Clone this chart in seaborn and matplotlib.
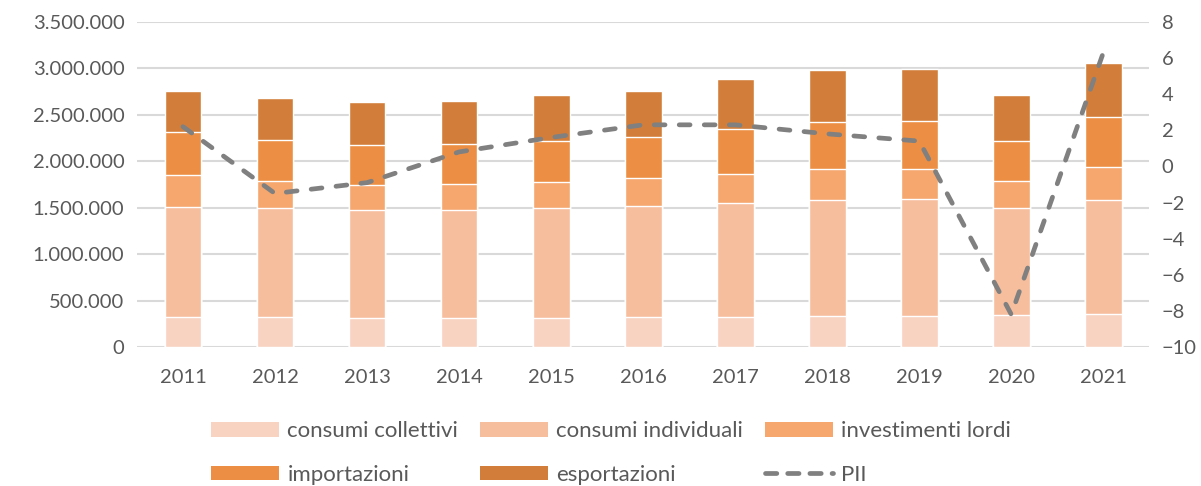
import numpy as np
import pandas as pd
import matplotlib
matplotlib.use("Agg")
import matplotlib.pyplot as plt
import seaborn as sns
from matplotlib.patches import Patch
from matplotlib.lines import Line2D
from matplotlib.ticker import FuncFormatter, MultipleLocator

# ================= dati =================
anni = ["2011", "2012", "2013", "2014", "2015", "2016", "2017", "2018", "2019", "2020", "2021"]
consumi_collettivi = [326, 323, 316, 316, 316, 326, 326, 337, 337, 345, 352]
consumi_individuali = [1185, 1171, 1159, 1159, 1181, 1192, 1225, 1246, 1257, 1152, 1231]
investimenti_lordi = [341, 294, 270, 280, 280, 305, 312, 334, 326, 294, 359]
importazioni = [461, 438, 427, 428, 441, 438, 485, 506, 514, 427, 535]
esportazioni = [445, 458, 462, 470, 498, 494, 532, 554, 560, 490, 580]
pil = [2.2, -1.5, -0.9, 0.8, 1.6, 2.3, 2.3, 1.8, 1.4, -8.2, 6.3]

serie = ["consumi collettivi", "consumi individuali", "investimenti lordi",
         "importazioni", "esportazioni"]
colori = ["#F8D3C1", "#F7BE9E", "#F5A76E", "#EC8F44", "#D27E3A"]
testo = "#595959"
grigio = "#808080"

# migliaia -> unita
df = pd.DataFrame({
    "anno": anni,
    "consumi collettivi": np.array(consumi_collettivi) * 1000,
    "consumi individuali": np.array(consumi_individuali) * 1000,
    "investimenti lordi": np.array(investimenti_lordi) * 1000,
    "importazioni": np.array(importazioni) * 1000,
    "esportazioni": np.array(esportazioni) * 1000,
})
cumulate = df[serie].cumsum(axis=1)

sns.set_style("white")
plt.rcParams["font.family"] = ["Lato", "DejaVu Sans"]

fig = plt.figure(figsize=(12.01, 4.86), dpi=100)
ax = fig.add_axes([0.114, 0.286, 0.843, 0.669])

# barre impilate: dalla cima verso il basso
for nome, col in reversed(list(zip(serie, colori))):
    sns.barplot(x=df["anno"], y=cumulate[nome], color=col, width=0.4,
                saturation=1, ax=ax, zorder=2)

ax.set_ylim(0, 3500000)
ax.yaxis.set_major_locator(MultipleLocator(500000))
ax.yaxis.set_major_formatter(FuncFormatter(lambda v, p: f"{int(v):,}".replace(",", ".")))
ax.grid(axis="y", color="#D9D9D9", linewidth=1.5, zorder=0)
ax.set_axisbelow(True)
ax.set_xlabel("")
ax.set_ylabel("")
ax.set_xlim(-0.5, len(anni) - 0.5)
for s in ax.spines.values():
    s.set_visible(False)
ax.tick_params(axis="y", length=0, labelsize=14.5, labelcolor=testo, pad=9)
ax.tick_params(axis="x", length=0, labelsize=14.5, labelcolor=testo, pad=16)

# PIL su asse secondario
ax2 = ax.twinx()
sns.lineplot(x=np.arange(len(anni)), y=pil, ax=ax2, color=grigio, linewidth=3.4,
             linestyle=(0, (2.3, 3.0)), dash_capstyle="round", zorder=3)
ax2.set_ylim(-10, 8)
ax2.yaxis.set_major_locator(MultipleLocator(2))
for s in ax2.spines.values():
    s.set_visible(False)
ax2.tick_params(axis="y", length=0, labelsize=14.5, labelcolor=testo, pad=9)
ax2.set_xlim(-0.5, len(anni) - 0.5)

# legenda (ordine per colonne)
patch = {n: Patch(facecolor=c, edgecolor="none") for n, c in zip(serie, colori)}
linea = Line2D([], [], color=grigio, linewidth=3.4, linestyle=(0, (2.4, 2.3)),
               dash_capstyle="round")
handles = [patch["consumi collettivi"], patch["importazioni"],
           patch["consumi individuali"], patch["esportazioni"],
           patch["investimenti lordi"], linea]
labels = ["consumi collettivi", "importazioni", "consumi individuali", "esportazioni",
          "investimenti lordi", "PII"]
leg = fig.legend(handles, labels, ncol=3, loc="center", bbox_to_anchor=(0.509, 0.068),
                 frameon=False, fontsize=16, handlelength=3.06, handleheight=0.63,
                 columnspacing=1.0, labelspacing=1.05, handletextpad=0.36)
for t in leg.get_texts():
    t.set_color(testo)

fig.savefig("out.png", dpi=100)
